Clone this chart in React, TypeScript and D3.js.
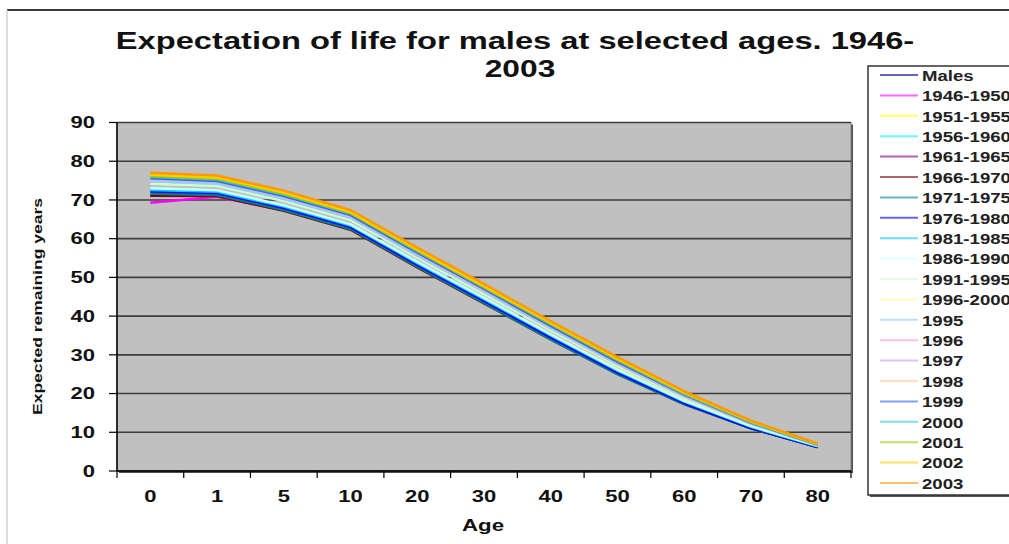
import React from "react";
import * as d3 from "d3";

const ages = ["0", "1", "5", "10", "20", "30", "40", "50", "60", "70", "80"];
const yTicks = [0, 10, 20, 30, 40, 50, 60, 70, 80, 90];

const seriesNames = [
  "Males", "1946-1950", "1951-1955", "1956-1960", "1961-1965", "1966-1970",
  "1971-1975", "1976-1980", "1981-1985", "1986-1990", "1991-1995", "1996-2000",
  "1995", "1996", "1997", "1998", "1999", "2000", "2001", "2002", "2003",
];

// excel 2003 default line colours
const seriesColors = [
  "#000080", "#ff00ff", "#ffff00", "#00ffff", "#800080", "#800000",
  "#008080", "#0000ff", "#00ccff", "#ccffff", "#ccffcc", "#ffff99",
  "#99ccff", "#ff99cc", "#cc99ff", "#ffcc99", "#3366ff", "#33cccc",
  "#99cc00", "#ffcc00", "#ff9900",
];

// "Males" is only a header row in the sheet, no values
const males: number[] = [];
const p1946: number[] = [69.3, 70.8, 67.3, 62.6, 53.2, 44.4, 35.3, 26.5, 18.3, 11.6, 6.4];
const p1951: number[] = [71.1, 71.7, 68.1, 63.3, 53.6, 44.5, 35.3, 26.4, 18.2, 11.5, 6.4];
const p1956: number[] = [71.4, 71.6, 67.9, 63.0, 53.3, 44.1, 34.8, 25.9, 17.8, 11.2, 6.2];
const p1961: number[] = [71.1, 71.1, 67.4, 62.5, 52.9, 43.6, 34.3, 25.4, 17.5, 11.1, 6.2];
const p1966: number[] = [71.1, 71.0, 67.2, 62.3, 52.6, 43.3, 34.0, 25.1, 17.3, 11.0, 6.2];
const p1971: number[] = [71.6, 71.3, 67.4, 62.5, 52.8, 43.4, 34.0, 25.0, 17.3, 11.0, 6.2];
const p1976: number[] = [72.2, 71.8, 67.9, 63.0, 53.2, 43.9, 34.5, 25.4, 17.5, 11.1, 6.2];
const p1981: number[] = [72.6, 72.1, 68.3, 63.4, 53.7, 44.4, 35.0, 25.9, 17.9, 11.4, 6.4];
const p1986: number[] = [73.0, 72.5, 68.6, 63.7, 54.0, 44.7, 35.3, 26.2, 18.1, 11.6, 6.5];
const p1991: number[] = [74.2, 73.6, 69.7, 64.8, 55.1, 45.7, 36.3, 27.1, 18.8, 12.0, 6.7];
const p1996: number[] = [75.5, 74.9, 71.0, 66.0, 56.3, 46.9, 37.4, 28.1, 19.6, 12.5, 6.8];
const y1995: number[] = [74.8, 74.2, 70.3, 65.4, 55.6, 46.3, 36.8, 27.6, 19.2, 12.2, 6.7];
const y1996: number[] = [75.4, 74.8, 70.9, 65.9, 56.2, 46.8, 37.3, 28.0, 19.5, 12.4, 6.8];
const y1997: number[] = [75.5, 74.9, 71.0, 66.0, 56.3, 46.9, 37.4, 28.1, 19.6, 12.4, 6.7];
const y1998: number[] = [75.5, 74.9, 71.0, 66.0, 56.3, 46.9, 37.4, 28.1, 19.6, 12.5, 6.8];
const y1999: number[] = [75.6, 74.9, 71.0, 66.1, 56.4, 47.0, 37.5, 28.2, 19.7, 12.5, 6.8];
const y2000: number[] = [76.0, 75.3, 71.4, 66.5, 56.8, 47.4, 37.9, 28.6, 19.9, 12.6, 6.8];
const y2001: number[] = [76.2, 75.5, 71.6, 66.6, 56.9, 47.5, 38.0, 28.7, 20.1, 12.7, 6.9];
const y2002: number[] = [76.5, 75.8, 71.9, 66.9, 57.2, 47.8, 38.3, 29.0, 20.3, 12.9, 7.0];
const y2003: number[] = [77.0, 76.3, 72.4, 67.4, 57.7, 48.3, 38.7, 29.4, 20.6, 13.0, 7.1];

const seriesValues = [
  males, p1946, p1951, p1956, p1961, p1966, p1971, p1976, p1981, p1986, p1991, p1996,
  y1995, y1996, y1997, y1998, y1999, y2000, y2001, y2002, y2003,
];

const FONT = "'Liberation Sans', Arial, sans-serif";
const SX = 1.35; // the source picture is stretched sideways

const App = () => {
  const left = 117, right = 851, top = 122.5, bottom = 471;

  const x = d3.scaleBand<string>().domain(ages).range([left, right]).paddingInner(0).paddingOuter(0);
  const y = d3.scaleLinear().domain([0, 90]).range([bottom, top]);

  const line = d3
    .line<number>()
    .x((d, i) => (x(ages[i]) as number) + x.bandwidth() / 2)
    .y((d) => y(d));

  const legendTop = 75;
  const legendStep = 20.4;

  return (
    <svg
      width={1009}
      height={544}
      style={{ position: "absolute", left: 0, top: 0, background: "#fff" }}
    >
      {/* chart frame */}
      <line x1={7} x2={1009} y1={10} y2={10} stroke="#3a3a3a" strokeWidth={2} />
      <line x1={7} x2={7} y1={10} y2={544} stroke="#d0d0d0" strokeWidth={1.5} />

      {/* title */}
      <g fontFamily={FONT} fontWeight="bold" fontSize={23.5} fill="#111" textAnchor="middle">
        <text transform={`translate(515,49) scale(1.39,1)`}>
          Expectation of life for males at selected ages. 1946-
        </text>
        <text transform={`translate(520,77) scale(${SX},1)`}>2003</text>
      </g>

      {/* plot area */}
      <rect x={left + 2} y={top + 2} width={right - left} height={bottom - top} fill="#505050" />
      <rect x={left} y={top} width={right - left} height={bottom - top} fill="#c0c0c0" stroke="#808080" strokeWidth={1} />

      {yTicks.map((t) => (
        <line key={"g" + t} x1={left} x2={right} y1={y(t)} y2={y(t)} stroke="#3c3c3c" strokeWidth={1.6} />
      ))}

      {seriesValues.map((vals, i) => (
        <path
          key={seriesNames[i]}
          d={vals.length ? (line(vals) as string) : ""}
          fill="none"
          stroke={seriesColors[i]}
          strokeWidth={2.5}
          strokeLinejoin="round"
        />
      ))}

      {/* axes */}
      <line x1={left} x2={left} y1={top} y2={bottom} stroke="#000" strokeWidth={1.5} />
      <line x1={left} x2={right} y1={bottom} y2={bottom} stroke="#000" strokeWidth={1.5} />
      {yTicks.map((t) => (
        <g key={"y" + t}>
          <line x1={left - 8} x2={left} y1={y(t)} y2={y(t)} stroke="#000" strokeWidth={1.2} />
          <text
            transform={`translate(95,${y(t) + 5.8}) scale(${SX},1)`}
            textAnchor="end"
            fontFamily={FONT}
            fontWeight="bold"
            fontSize={16.3}
            fill="#111"
          >
            {t}
          </text>
        </g>
      ))}
      {ages.map((a) => (
        <line
          key={"xt" + a}
          x1={(x(a) as number) + x.bandwidth()}
          x2={(x(a) as number) + x.bandwidth()}
          y1={bottom}
          y2={bottom + 7}
          stroke="#000"
          strokeWidth={1.2}
        />
      ))}
      <line x1={left} x2={left} y1={bottom} y2={bottom + 7} stroke="#000" strokeWidth={1.2} />
      {ages.map((a) => (
        <text
          key={"xl" + a}
          transform={`translate(${(x(a) as number) + x.bandwidth() / 2},501.5) scale(${SX},1)`}
          textAnchor="middle"
          fontFamily={FONT}
          fontWeight="bold"
          fontSize={16.3}
          fill="#111"
        >
          {a}
        </text>
      ))}

      {/* axis titles */}
      <text
        transform={`translate(483,531) scale(1.31,1)`}
        textAnchor="middle"
        fontFamily={FONT}
        fontWeight="bold"
        fontSize={17}
        fill="#111"
      >
        Age
      </text>
      <text
        transform="translate(42,306.5) rotate(-90)"
        textAnchor="middle"
        fontFamily={FONT}
        fontWeight="bold"
        fontSize={12.5}
        textLength={217}
        lengthAdjust="spacingAndGlyphs"
        fill="#111"
      >
        Expected remaining years
      </text>

      {/* legend */}
      <rect x={870} y={68} width={160} height={429} fill="#555" />
      <rect x={868} y={66} width={160} height={429} fill="#fff" stroke="#333" strokeWidth={1.5} />
      {seriesNames.map((name, i) => {
        const ly = legendTop + i * legendStep;
        return (
          <g key={"lg" + name}>
            <line x1={880} x2={918} y1={ly} y2={ly} stroke={seriesColors[i]} strokeWidth={2} opacity={0.6} />
            <text
              transform={`translate(922,${ly + 5.8}) scale(1.2,1)`}
              fontFamily={FONT}
              fontWeight="bold"
              fontSize={15.5}
              fill="#222"
            >
              {name}
            </text>
          </g>
        );
      })}
    </svg>
  );
};

export default App;
